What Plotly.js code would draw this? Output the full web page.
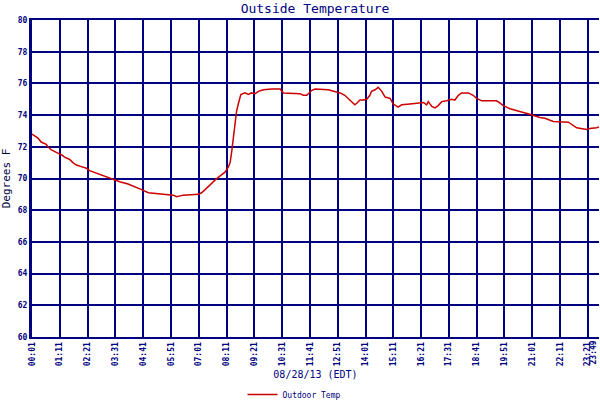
<!DOCTYPE html>
<html>
<head>
<meta charset="utf-8">
<script src="https://cdn.plot.ly/plotly-3.0.1.min.js"></script>
<style>html,body{margin:0;padding:0;background:#fff;}#chart{width:600px;height:400px;}</style>
</head>
<body>
<div id="chart"></div>
<script>
var day = "2013-08-28 ";
var times = ["00:01","00:08","00:16","00:24","00:37","00:41","00:50","01:06","01:15","01:23","01:36","01:44","01:53","02:05","02:18","02:26","02:47","03:08","03:29","03:42","04:03","04:08","04:20","04:37","04:54","05:32","05:57","06:05","06:22","07:00","07:08","07:17","07:29","07:42","07:54","08:07","08:15","08:20","08:24","08:28","08:32","08:36","08:41","08:47","08:57","09:06","09:14","09:23","09:31","09:44","10:05","10:26","10:34","11:16","11:24","11:33","11:45","11:54","12:27","12:40","12:57","13:09","13:22","13:34","13:39","13:47","13:55","14:04","14:12","14:16","14:25","14:33","14:42","14:50","15:03","15:11","15:23","15:32","15:53","16:14","16:27","16:35","16:39","16:48","16:56","17:04","17:13","17:25","17:38","17:46","17:55","18:03","18:20","18:32","18:41","18:54","19:15","19:31","19:40","19:48","20:05","20:17","20:34","20:55","21:08","21:20","21:33","21:54","22:32","22:40","22:53","23:18","23:26","23:43","23:49"];
var temps = [72.8,72.7,72.55,72.3,72.15,72.0,71.8,71.6,71.5,71.35,71.2,71.0,70.85,70.75,70.65,70.5,70.3,70.1,69.95,69.8,69.65,69.6,69.5,69.3,69.1,69.0,68.95,68.85,68.95,69.0,69.1,69.3,69.6,69.9,70.15,70.4,70.7,71.0,71.7,72.65,73.5,74.2,74.75,75.3,75.4,75.3,75.4,75.35,75.5,75.6,75.65,75.65,75.4,75.35,75.25,75.25,75.55,75.65,75.6,75.5,75.4,75.25,74.95,74.65,74.75,74.95,74.95,75.0,75.25,75.5,75.6,75.75,75.5,75.15,75.05,74.7,74.5,74.65,74.7,74.75,74.8,74.65,74.85,74.55,74.45,74.6,74.85,74.9,75.0,74.95,75.25,75.4,75.4,75.25,75.05,74.9,74.9,74.9,74.75,74.6,74.4,74.3,74.2,74.05,73.95,73.85,73.8,73.6,73.55,73.4,73.2,73.1,73.15,73.2,73.25];
var tickLabels = ["00:01","01:11","02:21","03:31","04:41","05:51","07:01","08:11","09:21","10:31","11:41","12:51","14:01","15:11","16:21","17:31","18:41","19:51","21:01","22:11","23:21","23:49"];
var yTicks = [60,62,64,66,68,70,72,74,76,78,80];

var navy = "#000080";
var mono = "DejaVu Sans Mono, monospace";
var lastLabel = tickLabels[tickLabels.length - 1];
var trace = {
  x: times.map(function(t){return day + t;}),
  y: temps,
  type: "scatter",
  mode: "lines",
  name: "Outdoor Temp",
  line: {color: "#cc0000", width: 1.5}
};
var tickFont = {family: mono, size: 8, color: navy, weight: "bold"};
var layout = {
  width: 600, height: 400,
  margin: {l: 32, r: 1, t: 20, b: 63},
  paper_bgcolor: "#fff", plot_bgcolor: "#fff",
  title: {text: "Outside Temperature", x: 0.525, xanchor: "center", y: 0.99, yanchor: "top",
          font: {family: mono, size: 13, color: navy}},
  xaxis: {
    type: "date",
    automargin: false,
    range: [day + "00:01", day + "23:49:06"],
    tickmode: "array",
    tickvals: tickLabels.map(function(t){return day + t;}),
    ticktext: tickLabels.map(function(t, i){return i === tickLabels.length - 1 ? "" : t;}),
    tickangle: -90,
    tickfont: tickFont,
    showgrid: true, gridcolor: navy, gridwidth: 2,
    showline: true, linecolor: navy, linewidth: 2, mirror: true,
    zeroline: false, ticks: "",
    title: {text: "08/28/13 (EDT)", font: {family: mono, size: 10, color: navy}, standoff: 14}
  },
  yaxis: {
    automargin: false,
    range: [60, 80],
    tickmode: "array",
    tickvals: yTicks,
    ticktext: yTicks.map(String),
    tickfont: tickFont,
    showgrid: true, gridcolor: navy, gridwidth: 2,
    showline: true, linecolor: navy, linewidth: 3,
    zeroline: false, ticks: "",
    title: {text: "Degrees F", font: {family: mono, size: 11, color: "#000040"}, standoff: 6}
  },
  annotations: [{
    text: lastLabel, x: day + lastLabel, xref: "x", y: 0, yref: "paper",
    xanchor: "right", yanchor: "top", yshift: -2, textangle: -90, showarrow: false,
    font: tickFont, borderpad: 0
  }],
  showlegend: true,
  legend: {orientation: "h", xref: "container", yref: "container", x: 0.49, xanchor: "center", y: 0.05, yanchor: "top",
           font: {family: mono, size: 8, color: navy}, bgcolor: "rgba(0,0,0,0)"}
};
Plotly.newPlot("chart", [trace], layout, {displayModeBar: false, staticPlot: true});
</script>
</body>
</html>
